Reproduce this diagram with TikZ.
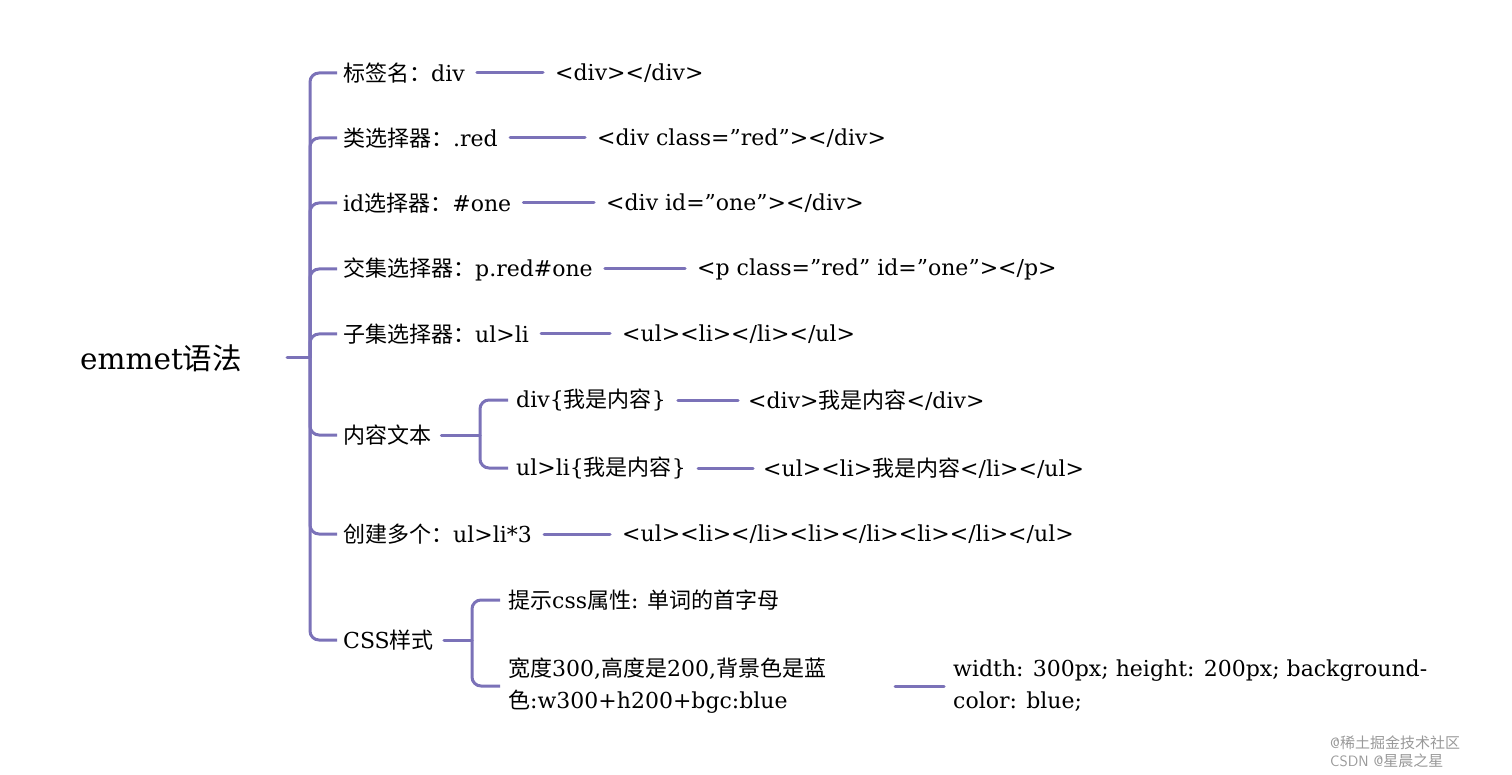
\documentclass[tikz,border=0pt]{standalone}
\usepackage{fontspec}
\setmainfont[Ligatures=ResetAll]{DejaVu Serif}
\newfontfamily\cjk{Noto Sans CJK SC}
\definecolor{br}{HTML}{7B72B8}
\begin{document}
\begin{tikzpicture}[x=1pt,y=-1pt,
  t/.style={anchor=west,inner sep=0pt,font=\fontsize{22}{32}\selectfont,align=left},
  ln/.style={draw=br,line width=3pt,line cap=round},
  br/.style={draw=br,line width=3pt,rounded corners=9pt}]
\useasboundingbox (0,0) rectangle (1512,775);
\node[t,font=\fontsize{29.5}{30}\selectfont] (root) at (80,358) {emmet{\cjk 语法}};
\coordinate (rb) at (310,358);
\draw[ln] (287,358) -- (rb);
\node[t] (a1) at (343,73) {{\cjk 标签名：}div};
\node[t] (a2) at (343,138) {{\cjk 类选择器：}.red};
\node[t] (a3) at (343,203) {id{\cjk 选择器：}\#one};
\node[t] (a4) at (343,269) {{\cjk 交集选择器：}p.red\#one};
\node[t] (a5) at (343,334) {{\cjk 子集选择器：}ul>li};
\node[t] (a6) at (343,435) {{\cjk 内容文本}};
\node[t] (a7) at (343,534) {{\cjk 创建多个：}ul>li*3};
\node[t] (a8) at (343,640) {CSS{\cjk 样式}};
\foreach \n in {a1,a2,a3,a4,a5,a6,a7,a8} \draw[br] (rb) |- ([xshift=-6pt]\n.west);
\node[t] (r1) at (555,73) {<div></div>};
\node[t] (r2) at (597,138) {<div class="red"></div>};
\node[t] (r3) at (606,203) {<div id="one"></div>};
\node[t] (r4) at (697,269) {<p class="red" id="one"></p>};
\node[t] (r5) at (622,334) {<ul><li></li></ul>};
\node[t] (r7) at (622,534) {<ul><li></li><li></li><li></li></ul>};
\foreach \a/\b in {a1/r1,a2/r2,a3/r3,a4/r4,a5/r5,a7/r7}
  \draw[ln] ([xshift=12pt]\a.east) -- ([xshift=-12pt]\b.west);
% content text
\coordinate (cb) at (480,435);
\draw[ln] ([xshift=10pt]a6.east) -- (cb);
\node[t] (c1) at (516,400) {div\{{\cjk 我是内容}\}};
\node[t] (c2) at (516,468) {ul>li\{{\cjk 我是内容}\}};
\foreach \n in {c1,c2} \draw[br] (cb) |- ([xshift=-8pt]\n.west);
\node[t] (d1) at (748,400) {<div>{\cjk 我是内容}</div>};
\node[t] (d2) at (763,468) {<ul><li>{\cjk 我是内容}</li></ul>};
\draw[ln] ([xshift=12pt]c1.east) -- ([xshift=-10pt]d1.west);
\draw[ln] ([xshift=12pt]c2.east) -- ([xshift=-10pt]d2.west);
% css
\coordinate (sb) at (472,640);
\draw[ln] ([xshift=10pt]a8.east) -- (sb);
\node[t] (s1) at (508,600) {{\cjk 提示}css{\cjk 属性}: {\cjk 单词的首字母}};
\node[t] (s2) at (508,686) {{\cjk 宽度}300,{\cjk 高度是}200,{\cjk 背景色是蓝}\\{\cjk 色}:w300+h200+bgc:blue};
\foreach \n in {s1,s2} \draw[br] (sb) |- ([xshift=-8pt]\n.west);
\node[t] (s3) at (953,686) {width: 300px; height: 200px; background-\\color: blue;};
\draw[ln] (895,686) -- ([xshift=-9pt]s3.west);
\node[anchor=west,inner sep=0pt,text=gray!80,font=\fontsize{15}{18}\selectfont\sffamily,align=left] (wm) at (1330,752) {@{\cjk 稀土掘金技术社区}\\CSDN @{\cjk 星晨之星}};
\end{tikzpicture}
\end{document}
